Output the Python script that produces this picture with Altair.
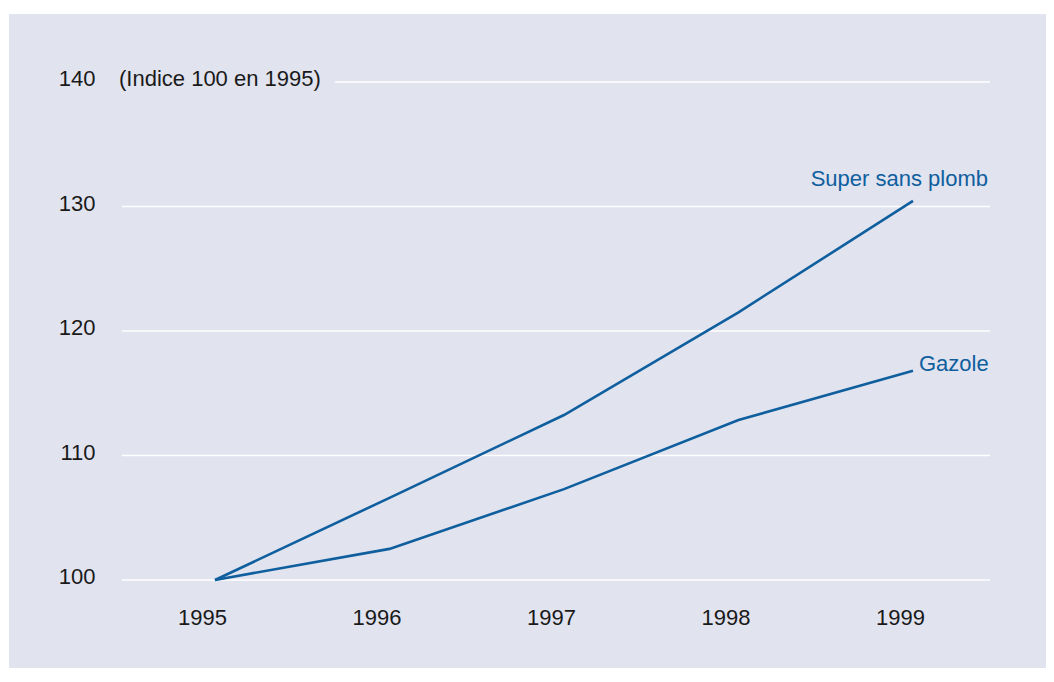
import altair as alt
import pandas as pd

years = [1995, 1996, 1997, 1998, 1999]
super_sans_plomb = [100, 106.6, 113.25, 121.5, 130.45]
gazole = [100, 102.5, 107.3, 112.85, 116.8]
series_names = ["Super sans plomb", "Gazole"]
y_ticks = [100, 110, 120, 130, 140]
grid_start = [1994.467, 1994.467, 1994.467, 1994.467, 1995.688]
grid_end = [1999.441] * 5
subtitle = "(Indice 100 en 1995)"

BG = "#e1e3ef"
LINE = "#0f5f9e"
TXT = "#1a1a1a"
FONT = "Liberation Sans"
FS = 22

rows = []
for name, vals in zip(series_names, [super_sans_plomb, gazole]):
    for yr, v in zip(years, vals):
        rows.append({"serie": name, "annee": yr, "valeur": v})
df = pd.DataFrame(rows)

grid_df = pd.DataFrame({"y": y_ticks, "x0": grid_start, "x1": grid_end})

xs = alt.Scale(domain=[1993.8195, 1999.7622], nice=False, zero=False)
ys = alt.Scale(domain=[92.932, 145.462], nice=False, zero=False)

grid = alt.Chart(grid_df).mark_rule(color="white", strokeWidth=1.5).encode(
    x=alt.X("x0:Q", scale=xs, axis=alt.Axis(
        values=years, format="d", orient="bottom", offset=-44, ticks=False, domain=False,
        grid=False, labelPadding=0, labelBaseline="alphabetic", labelOffset=-13,
        labelFont=FONT, labelFontSize=FS, labelColor=TXT, labelFlush=False,
        labelOverlap=False, labelBound=False, title=None)),
    x2="x1:Q",
    y=alt.Y("y:Q", scale=ys, axis=alt.Axis(
        values=y_ticks, format="d", orient="left", offset=-86, ticks=False, domain=False,
        grid=False, labelPadding=0, labelAlign="right", labelBaseline="alphabetic",
        labelOffset=3.5, labelFont=FONT, labelFontSize=FS, labelColor=TXT,
        labelFlush=False, labelOverlap=False, labelBound=False, title=None)),
)

lines = alt.Chart(df).mark_line(color=LINE, strokeWidth=2.6).encode(
    x=alt.X("annee:Q", scale=xs),
    y=alt.Y("valeur:Q", scale=ys),
    detail="serie:N",
)

end_df = df[df["annee"] == years[-1]]
lab_super = alt.Chart(end_df[end_df["serie"] == series_names[0]]).mark_text(
    align="right", baseline="alphabetic", dx=75, dy=-14.5, font=FONT, fontSize=FS, color=LINE
).encode(x=alt.X("annee:Q", scale=xs), y=alt.Y("valeur:Q", scale=ys), text="serie:N")
lab_gaz = alt.Chart(end_df[end_df["serie"] == series_names[1]]).mark_text(
    align="left", baseline="alphabetic", dx=6, dy=0, font=FONT, fontSize=FS, color=LINE
).encode(x=alt.X("annee:Q", scale=xs), y=alt.Y("valeur:Q", scale=ys), text="serie:N")

sub = alt.Chart(pd.DataFrame({"t": [subtitle], "y": [y_ticks[-1]]})).mark_text(
    align="left", baseline="alphabetic", dy=3.5, font=FONT, fontSize=FS, color=TXT
).encode(x=alt.value(110), y=alt.Y("y:Q", scale=ys), text="t:N")

chart = alt.layer(grid, lines, lab_super, lab_gaz, sub).properties(
    width=1037, height=654,
    autosize=alt.AutoSizeParams(type="none"),
    padding={"left": 1, "top": 6, "right": 0, "bottom": 0},
    background="white",
).configure_view(fill=BG, stroke=None)

chart.save("out.html", embed_options={"renderer": "svg", "actions": False})
